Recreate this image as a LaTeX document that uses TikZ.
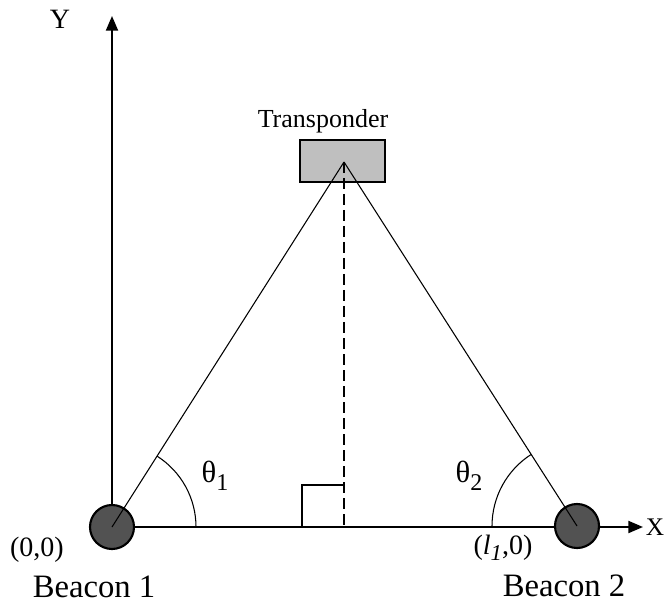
\documentclass[tikz,border=0pt]{standalone}
\usepackage{fontspec}
\setmainfont{Liberation Serif}
\usetikzlibrary{arrows.meta}
\newcommand{\fs}[1]{\fontsize{#1}{#1}\selectfont}
\tikzset{
  axis/.style={line width=1.5pt,-{Triangle[length=11pt,width=9pt]}},
  beacon/.style={circle,draw=black,line width=1.6pt,fill=black!68,minimum size=33pt,inner sep=0pt},
  tbox/.style={rectangle,draw=black,line width=0.8pt,fill=black!25,minimum width=63.75pt,minimum height=31.5pt,inner sep=0pt},
  ray/.style={line width=0.8pt},
  lbl/.style={inner sep=0pt},
}
\begin{document}
\begin{tikzpicture}[x=0.75pt,y=-0.75pt]
\useasboundingbox (0,0) rectangle (666,605);
\coordinate (O) at (112,527);
\coordinate (ytip) at (112,16);
\coordinate (xtip) at (643,527);
\coordinate (apex) at (344,162);
\coordinate (foot) at (344,527);
\coordinate (sq1) at (302,527);
\coordinate (sq2) at (302,485);
\coordinate (sq3) at (344,485);
\node[tbox] (tr) at (342.5,161) {};
% axes
\draw[axis] (O) -- (ytip);
\draw[axis] (O) -- (xtip);
% beacons
\node[beacon] (b1) at (O) {};
\node[beacon] (b2) at (577,526) {};
% rays
\draw[ray] (b1.center) -- (apex);
\draw[ray] (b2.center) -- (apex);
\draw[line width=1.2pt,dash pattern=on 8pt off 4pt] (apex) -- (foot);
% right angle
\draw[line width=0.9pt] (sq1) -- (sq2) -- (sq3);
% angle arcs
\draw[line width=0.8pt] ([xshift=63pt]b1.center) arc[start angle=0,end angle=-57.45,radius=84];
\draw[line width=0.8pt] ([xshift=-63.75pt]b2.center) arc[start angle=180,end angle=237.56,radius=85];
% labels
\node[lbl,anchor=base] (ttr) at (323,128) {\fs{19.5pt}Transponder};
\node[lbl] (ly) at (60,19) {\fs{21pt}Y};
\node[lbl] (lx) at (655,527) {\fs{19pt}X};
\node[lbl] (t1) at (215,476) {\fs{23pt}θ\raisebox{-0.25em}{\fs{18pt}1}};
\node[lbl] (t2) at (469,476) {\fs{23pt}θ\raisebox{-0.25em}{\fs{18pt}2}};
\node[lbl] (l00) at (37,550) {\fs{21pt}(0,0)};
\node[lbl] (l10) at (503,548) {\fs{21pt}(\textit{l}\raisebox{-0.2em}{\textit{\fs{17pt}1}},0)};
\node[lbl,anchor=base] (bn1) at (94,597) {\fs{24.5pt}Beacon 1};
\node[lbl,anchor=base] (bn2) at (564,596) {\fs{24.5pt}Beacon 2};
\end{tikzpicture}
\end{document}
